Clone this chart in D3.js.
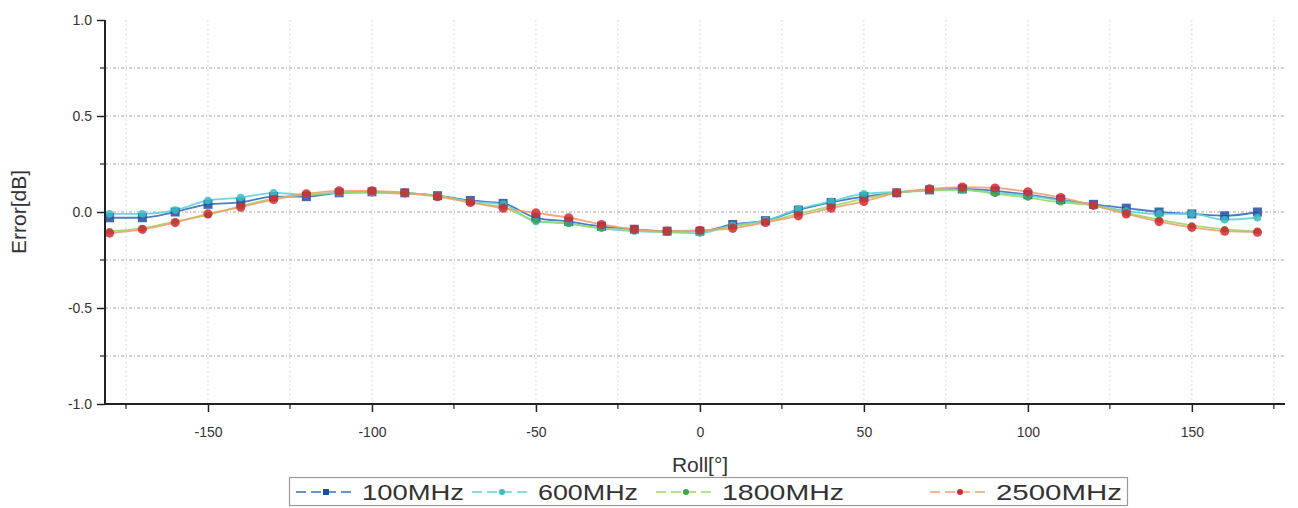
<!DOCTYPE html>
<html><head><meta charset="utf-8">
<script src="https://cdn.jsdelivr.net/npm/d3@7"></script>
<style>body{margin:0;background:#fff}svg{display:block;font-family:"Liberation Sans",Arial,sans-serif}</style>
</head><body><svg id="c" width="1298" height="508"></svg>
<script>
const angles = [-180,-170,-160,-150,-140,-130,-120,-110,-100,-90,-80,-70,-60,-50,-40,-30,-20,-10,0,10,20,30,40,50,60,70,80,90,100,110,120,130,140,150,160,170];
const s100 = [-0.03,-0.03,0.0,0.04,0.05,0.08,0.08,0.10,0.105,0.10,0.085,0.06,0.045,-0.03,-0.05,-0.075,-0.09,-0.10,-0.10,-0.065,-0.045,0.01,0.05,0.08,0.10,0.115,0.12,0.11,0.09,0.065,0.04,0.02,0.0,-0.01,-0.02,0.0];
const s600 = [-0.01,-0.01,0.01,0.06,0.075,0.10,0.09,0.10,0.10,0.095,0.085,0.055,0.04,-0.05,-0.06,-0.085,-0.10,-0.105,-0.11,-0.07,-0.045,0.015,0.055,0.095,0.105,0.115,0.115,0.10,0.085,0.06,0.035,0.005,-0.01,-0.01,-0.04,-0.03];
const s1800 = [-0.10,-0.085,-0.05,-0.015,0.03,0.07,0.09,0.10,0.105,0.10,0.085,0.05,0.025,-0.045,-0.06,-0.085,-0.095,-0.105,-0.10,-0.075,-0.05,-0.01,0.03,0.07,0.10,0.11,0.115,0.095,0.075,0.05,0.035,-0.005,-0.04,-0.07,-0.09,-0.10];
const s2500 = [-0.11,-0.09,-0.055,-0.01,0.025,0.065,0.095,0.11,0.11,0.10,0.08,0.05,0.02,-0.005,-0.03,-0.065,-0.09,-0.10,-0.095,-0.085,-0.055,-0.02,0.02,0.055,0.10,0.12,0.13,0.125,0.105,0.075,0.035,-0.01,-0.05,-0.08,-0.10,-0.105];
const seriesNames = ["100MHz","600MHz","1800MHz","2500MHz"];
const xTicks = [-150,-100,-50,0,50,100,150];
const yTicks = [-1.0,-0.5,0.0,0.5,1.0];

const series = [
  {name:seriesNames[0], vals:s100, line:"#3a6fc0", mark:"#1f4f9f", shape:"square", r:4.5},
  {name:seriesNames[1], vals:s600, line:"#5fd3d8", mark:"#3bbcc4", shape:"circle", r:3.8},
  {name:seriesNames[2], vals:s1800, line:"#9ad86a", mark:"#3aa64a", shape:"circle", r:3.2},
  {name:seriesNames[3], vals:s2500, line:"#f0a070", mark:"#d42a32", shape:"circle", r:4.6}
];

const svg = d3.select("#c");
const L=105,R=1285,T=20,B=404;
const x = d3.scaleLinear().domain([-181.4,178.4]).range([L,R]);
const y = d3.scaleLinear().domain([-1,1]).range([B,T]);

// grid
const gx = d3.range(-175,176,25);
svg.append("g").selectAll("line").data(gx).join("line")
  .attr("x1",d=>x(d)).attr("x2",d=>x(d)).attr("y1",T).attr("y2",B)
  .attr("stroke","#cfcfcf").attr("stroke-width",1).attr("stroke-dasharray","1.5,3");
const gy = d3.range(-0.75,0.76,0.25);
svg.append("g").selectAll("line").data(gy).join("line")
  .attr("x1",L).attr("x2",R).attr("y1",d=>y(d)).attr("y2",d=>y(d))
  .attr("stroke","#a0a0a0").attr("stroke-width",1).attr("stroke-dasharray","3,2,1,2");

// series
const line = d3.line().x((d,i)=>x(angles[i])).y(d=>y(d)).curve(d3.curveMonotoneX);
series.forEach(s=>{
  svg.append("path").attr("d",line(s.vals)).attr("fill","none")
    .attr("stroke",s.line).attr("stroke-width",1.8).attr("opacity",0.9);
});
series.forEach(s=>{
  const g = svg.append("g");
  if(s.shape==="square"){
    g.selectAll("rect").data(s.vals).join("rect")
      .attr("x",(d,i)=>x(angles[i])-s.r).attr("y",d=>y(d)-s.r)
      .attr("width",2*s.r).attr("height",2*s.r).attr("fill",s.mark).attr("opacity",0.85);
  } else {
    g.selectAll("circle").data(s.vals).join("circle")
      .attr("cx",(d,i)=>x(angles[i])).attr("cy",d=>y(d)).attr("r",s.r)
      .attr("fill",s.mark).attr("opacity",0.85);
  }
});

// axes
const xAxis = d3.axisBottom(x).tickValues(xTicks).tickFormat(d=>String(d)).tickSize(8).tickPadding(15);
const gxA = svg.append("g").attr("transform",`translate(0,${B})`).call(xAxis);
gxA.select(".domain").attr("d",`M${L},0H${R}`).attr("stroke","#222").attr("stroke-width",2);
gxA.selectAll(".tick line").attr("stroke","#222").attr("stroke-width",1.5);
gxA.selectAll("text").attr("font-size",14).attr("fill","#333");
svg.append("g").selectAll("line").data(d3.range(-175,176,50)).join("line")
  .attr("x1",d=>x(d)).attr("x2",d=>x(d)).attr("y1",B).attr("y2",B+5).attr("stroke","#222").attr("stroke-width",1.2);

const yAxis = d3.axisLeft(y).tickValues(yTicks).tickFormat(d=>d.toFixed(1)).tickSize(8).tickPadding(5);
const gyA = svg.append("g").attr("transform",`translate(${L},0)`).call(yAxis);
gyA.select(".domain").attr("d",`M0,${T}V${B}`).attr("stroke","#222").attr("stroke-width",2);
gyA.selectAll(".tick line").attr("stroke","#222").attr("stroke-width",1.5);
gyA.selectAll("text").attr("font-size",14).attr("fill","#333");
svg.append("g").selectAll("line").data([-0.75,-0.25,0.25,0.75]).join("line")
  .attr("x1",L-5).attr("x2",L).attr("y1",d=>y(d)).attr("y2",d=>y(d)).attr("stroke","#222").attr("stroke-width",1.2);

// axis titles
svg.append("text").attr("transform",`translate(26,${(T+B)/2}) rotate(-90)`).attr("text-anchor","middle")
  .attr("font-size",21).attr("fill","#333").text("Error[dB]");
svg.append("text").attr("x",700).attr("y",472).attr("text-anchor","middle")
  .attr("font-size",21).attr("fill","#333").text("Roll[°]");

// legend
const lg = svg.append("g");
lg.append("rect").attr("x",289.5).attr("y",477.5).attr("width",838).attr("height",28)
  .attr("fill","#fff").attr("stroke","#999").attr("stroke-width",1.2);
const lx = [296,472,656,930];
const lw = [102,100,122,126];
series.forEach((s,i)=>{
  const cx0 = lx[i], ly = 492;
  lg.append("line").attr("x1",cx0).attr("x2",cx0+60).attr("y1",ly).attr("y2",ly)
    .attr("stroke",s.line).attr("stroke-width",1.5).attr("stroke-dasharray","10,5");
  if(s.shape==="square") lg.append("rect").attr("x",cx0+30-3).attr("y",ly-3).attr("width",6).attr("height",6).attr("fill",s.mark);
  else lg.append("circle").attr("cx",cx0+30).attr("cy",ly).attr("r",3).attr("fill",s.mark);
  lg.append("text").attr("x",cx0+66).attr("y",ly+8).attr("font-size",22)
    .attr("textLength",lw[i]).attr("lengthAdjust","spacingAndGlyphs").attr("fill","#333").text(s.name);
});
</script></body></html>
